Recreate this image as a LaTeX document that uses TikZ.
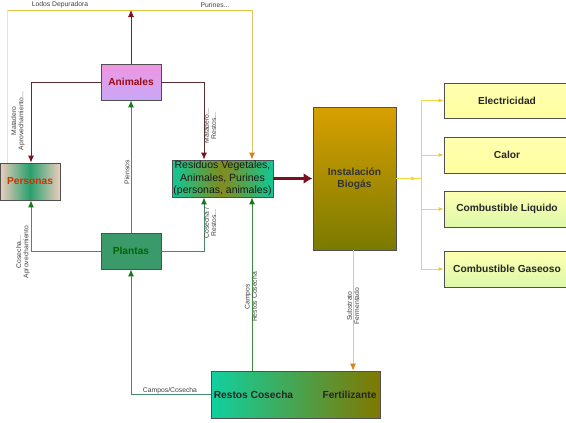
\documentclass[tikz,border=0pt]{standalone}
\usepackage{fontspec}
\setmainfont{Liberation Sans}
\usetikzlibrary{arrows.meta}
\definecolor{dred}{HTML}{7A1020}
\definecolor{mline}{HTML}{5A3030}
\definecolor{gline}{HTML}{4A8A6A}
\definecolor{gtip}{HTML}{1A7A1A}
\definecolor{otip}{HTML}{E08020}
\definecolor{gold}{HTML}{E8C040}
\definecolor{yel}{HTML}{F0D840}
\definecolor{bord}{HTML}{505050}
\tikzset{
  box/.style={draw=bord, line width=0.8pt, inner sep=1pt, align=center, font=\fontsize{10.2}{12}\selectfont\bfseries},
  lbl/.style={font=\fontsize{6.8}{7.2}\selectfont, text=black!75, align=center, inner sep=0pt},
  redc/.style={draw=mline, line width=0.9pt, arrows={-{Latex[length=7pt,width=6pt,color=dred]}}},
  grnc/.style={draw=gline, line width=1pt, arrows={-{Latex[length=7pt,width=6pt,color=gtip]}}},
  yelc/.style={draw=yel, line width=0.8pt, arrows={-{Latex[length=5pt,width=4pt,color=yel!80!orange]}}},
  rbox/.style={box, minimum width=126pt, minimum height=35pt, text=black!85},
}
\begin{document}
\begin{tikzpicture}[x=1pt,y=-1pt]
\useasboundingbox (0,0) rectangle (566,423);
% nodes
\node[box, minimum width=60pt, minimum height=36pt, top color={rgb,255:red,240;green,150;blue,224}, bottom color={rgb,255:red,200;green,168;blue,248}, text=dred!80!red] (anim) at (131,82) {Animales};
\node[box, minimum width=60pt, minimum height=37pt, left color={rgb,255:red,236;green,204;blue,188}, right color={rgb,255:red,236;green,204;blue,188}, middle color={rgb,255:red,40;green,160;blue,110}, text=orange!50!red!80!black] (pers) at (30,181.5) {Personas};
\node[box, minimum width=60pt, minimum height=36pt, fill={rgb,255:red,58;green,154;blue,106}, text=green!40!black] (plant) at (131,251) {Plantas};
\node[box, minimum width=101pt, minimum height=37pt, inner sep=0pt, font=\fontsize{10.5}{12.3}\selectfont, left color={rgb,255:red,16;green,200;blue,150}, right color={rgb,255:red,16;green,200;blue,150}, middle color={rgb,255:red,130;green,140;blue,30}, text=black!90] (resid) at (222.5,178.5) {Residuos Vegetales,\\Animales, Purines\\(personas, animales)};
\node[box, minimum width=83pt, minimum height=143pt, top color={rgb,255:red,216;green,160;blue,0}, bottom color={rgb,255:red,122;green,122;blue,0}, text=black!80] (inst) at (354.5,178.5) {Instalación\\Biogás};
\node[rbox, top color={rgb,255:red,255;green,255;blue,176}, bottom color={rgb,255:red,255;green,255;blue,160}] (elec) at (507,100.5) {Electricidad};
\node[rbox, minimum height=36pt, top color={rgb,255:red,255;green,255;blue,176}, bottom color={rgb,255:red,255;green,255;blue,160}] (calor) at (507,155) {Calor};
\node[rbox, minimum height=36pt, top color={rgb,255:red,255;green,255;blue,176}, bottom color={rgb,255:red,220;green,248;blue,170}] (liq) at (507,209) {Combustible Liquido};
\node[rbox, minimum height=36pt, top color={rgb,255:red,255;green,255;blue,176}, bottom color={rgb,255:red,220;green,248;blue,170}] (gas) at (507,269) {Combustible Gaseoso};
\node[box, minimum width=169pt, minimum height=47pt, left color={rgb,255:red,16;green,208;blue,160}, right color={rgb,255:red,128;green,120;blue,0}] (restos) at (295.5,394.5) {};
\node[font=\fontsize{10.2}{12}\selectfont\bfseries, text=black!85, inner sep=0pt] (rc) at (253.5,395) {Restos Cosecha};
\node[font=\fontsize{10.2}{12}\selectfont\bfseries, text=black!85, inner sep=0pt] (fert) at (349.5,395) {Fertilizante};
% coordinates
\coordinate (fl) at (7,10);
\coordinate (fr) at (252,10);
\coordinate (atop) at (131,10);
\coordinate (al) at (31,82);
\coordinate (ar) at (204,82);
\coordinate (pl) at (31,251);
\coordinate (pr) at (204,251);
\coordinate (br) at (421,178.5);
\coordinate (bt) at (421,100.5);
\coordinate (bb) at (421,269);
\coordinate (rl) at (131,394.5);
\coordinate (rx) at (252,371);
\coordinate (sx) at (353,250);
% frame
\draw[draw=gold, line width=0.9pt] (fl) -- (fr);
\draw[draw=yellow!50!brown!40, line width=0.8pt] (fl) -- (pers.north -| fl);
\draw[draw=brown!70!yellow!70, line width=0.8pt, arrows={-{Latex[length=7pt,width=6pt,color=otip]}}] (fr) -- (resid.north -| fr);
% animal connectors
\draw[redc] (anim.north) -- (atop);
\draw[redc] (anim.west) -- (al) -- (pers.north -| al);
\draw[redc] (anim.east) -- (ar) -- (resid.north -| ar);
% plant connectors
\draw[grnc] (plant.north) -- (anim.south);
\draw[grnc] (plant.west) -- (pl) -- (pers.south -| pl);
\draw[grnc] (plant.east) -- (pr) -- (resid.south -| pr);
\draw[grnc, draw=gray!60!green!80!black] (rx) -- (resid.south -| rx);
\draw[grnc] (restos.west) -- (rl) -- (plant.south);
% residuos to biogas
\draw[draw=dred, line width=2.5pt, arrows={-{Latex[length=9pt,width=11pt]}}] (resid.east) -- (inst.west);
% biogas outputs
\draw[yelc] (inst.east) -- ++(20,0);
\draw[draw=yel, line width=0.8pt] (inst.east) -- (br);
\draw[draw=yel, line width=0.8pt] (bt) -- (bb);
\draw[yelc] (bt) -- (elec.west);
\draw[yelc] (calor.west -| br) -- (calor.west);
\draw[yelc] (liq.west -| br) -- (liq.west);
\draw[yelc] (bb) -- (gas.west);
% substrato
\draw[draw=brown!40!orange!50, line width=0.8pt, arrows={-{Latex[length=7pt,width=6pt,color=otip]}}] (sx) -- (restos.north -| sx);
% labels
\node[lbl] (l1) at (60,5) {Lodos Depuradora};
\node[lbl] (l2) at (215,5) {Purines...};
\node[lbl, rotate=90] (l3) at (18,121) {Matadero\\Aprovechamiento...};
\node[lbl, rotate=90] (l4) at (210,126) {Matadero...\\Restos...};
\node[lbl, rotate=90] (l5) at (127,172) {Piensos};
\node[lbl, rotate=90] (l6) at (23,252) {Cosecha...\\Aprovechamiento};
\node[lbl, rotate=90] (l7) at (210,223) {Cosecha /\\Restos...};
\node[lbl, rotate=90] (l8) at (251,297) {Campos\\Restos Cosecha};
\node[lbl, rotate=90] (l9) at (353,306) {Substrato\\Fermentado};
\node[lbl] (l10) at (170,391) {Campos/Cosecha};
\end{tikzpicture}
\end{document}
